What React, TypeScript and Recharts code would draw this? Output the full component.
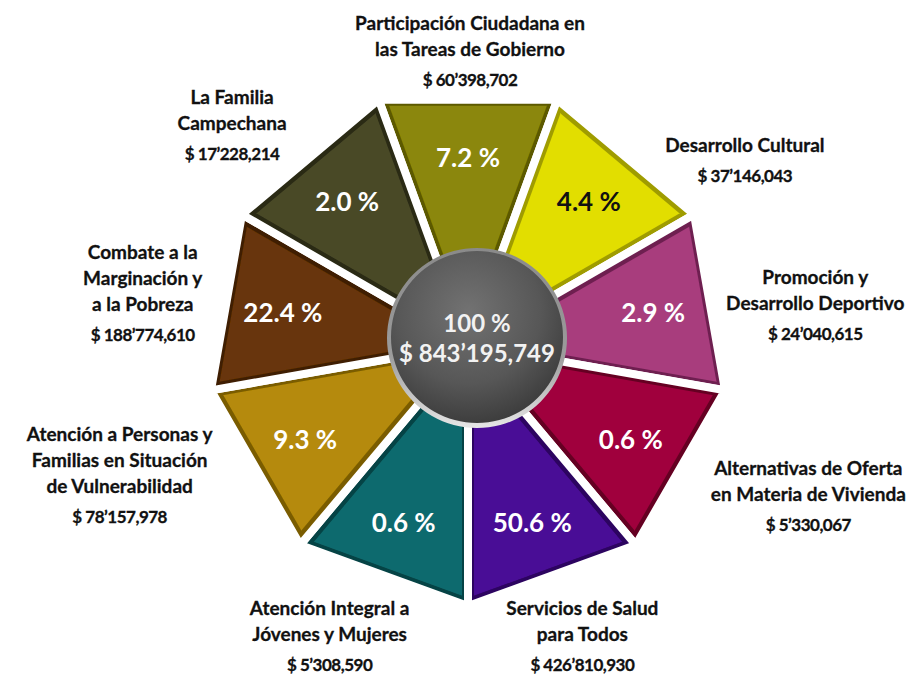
import {
  RadarChart,
  Radar,
  PolarAngleAxis,
  PolarRadiusAxis,
  PieChart,
  Pie,
} from "recharts";

// program names, split into the lines they are printed on
const NAMES: string[][] = [
  ["Participación Ciudadana en", "las Tareas de Gobierno"],
  ["Desarrollo Cultural"],
  ["Promoción y", "Desarrollo Deportivo"],
  ["Alternativas de Oferta", "en Materia de Vivienda"],
  ["Servicios de Salud", "para Todos"],
  ["Atención Integral a", "Jóvenes y Mujeres"],
  ["Atención a Personas y", "Familias en Situación", "de Vulnerabilidad"],
  ["Combate a la", "Marginación y", "a la Pobreza"],
  ["La Familia", "Campechana"],
];

const AMOUNTS = [
  "$ 60’398,702",
  "$ 37’146,043",
  "$ 24’040,615",
  "$ 5’330,067",
  "$ 426’810,930",
  "$ 5’308,590",
  "$ 78’157,978",
  "$ 188’774,610",
  "$ 17’228,214",
];

const PERCENTS = ["7.2 %", "4.4 %", "2.9 %", "0.6 %", "50.6 %", "0.6 %", "9.3 %", "22.4 %", "2.0 %"];

const TOTAL_PERCENT = "100 %";
const TOTAL_AMOUNT = "$ 843’195,749";

const COLORS = [
  "#8b8707",
  "#e2de00",
  "#a83c7d",
  "#a0063d",
  "#4a0b96",
  "#0d6b6e",
  "#b58a08",
  "#683507",
  "#4a4a28",
];
// darker tones for the bevelled rim of each wedge
const EDGE_COLORS = [
  "#5c5900",
  "#9f9c00",
  "#6e1f50",
  "#650022",
  "#2c0460",
  "#054345",
  "#7a5c00",
  "#3f1e02",
  "#2a2a14",
];
const PCT_COLORS = ["#fff", "#111", "#fff", "#fff", "#fff", "#fff", "#fff", "#fff", "#fff"];

// nudges from the polar anchor to the first line of each outer label
const NAME_NUDGE: [number, number][] = [
  [2, -12],
  [77, 38],
  [41, -14],
  [71, -33],
  [8, -30],
  [-32, -30],
  [-79, -67],
  [-19, -39],
  [-36, -10],
];

const W = 915;
const H = 667;
const CX = 460;
const CY = 337;
const OUTER_R = 261;
const FONT = "Lato, 'Open Sans', sans-serif";

// each row is a vertex of the nonagon; series k fills the wedge between vertex k and k+1
const vertexRows = NAMES.map((_, v) => {
  const row: Record<string, number> = { vertex: v };
  NAMES.forEach((_, k) => {
    row[`s${k}`] = v === k || v === (k + 1) % NAMES.length ? 1 : 0;
  });
  return row;
});

const segments = NAMES.map((lines, i) => ({
  name: lines.join(" "),
  weight: 1,
  amount: AMOUNTS[i],
  percent: PERCENTS[i],
}));

const RAD = Math.PI / 180;
const polar = (cx: number, cy: number, r: number, deg: number) => ({
  x: cx + r * Math.cos(-deg * RAD),
  y: cy + r * Math.sin(-deg * RAD),
});

function renderSegmentLabel(props: any) {
  const { cx, cy, midAngle, index } = props;
  const inner = polar(cx, cy, 188, midAngle);
  const anchor = polar(cx, cy, OUTER_R + 50, midAngle);
  const [ndx, ndy] = NAME_NUDGE[index];
  const x = anchor.x + ndx;
  const y0 = anchor.y + ndy;
  const lines = NAMES[index];
  return (
    <g key={`seg-label-${index}`}>
      <text
        x={inner.x}
        y={inner.y}
        textAnchor="middle"
        dominantBaseline="central"
        fill={PCT_COLORS[index]}
        fontFamily={FONT}
        fontWeight={700}
        fontSize={26}
      >
        {PERCENTS[index]}
      </text>
      {lines.map((line, i) => (
        <text
          key={i}
          x={x}
          y={y0 + i * 26}
          textAnchor="middle"
          dominantBaseline="central"
          fill="#111"
          stroke="#111"
          strokeWidth={0.3}
          fontFamily={FONT}
          fontWeight={700}
          fontSize={19}
        >
          {line}
        </text>
      ))}
      <text
        x={x}
        y={y0 + (lines.length - 1) * 26 + 31}
        textAnchor="middle"
        dominantBaseline="central"
        fill="#111"
        stroke="#111"
        strokeWidth={0.3}
        fontFamily={FONT}
        fontWeight={700}
        fontSize={17}
        letterSpacing={-0.5}
      >
        {AMOUNTS[index]}
      </text>
    </g>
  );
}

function renderTotalLabel(props: any) {
  const { cx, cy } = props;
  return (
    <g key="total-label">
      <text x={cx} y={cy - 15} textAnchor="middle" dominantBaseline="central" fill="#f2f2f2"
        fontFamily={FONT} fontWeight={700} fontSize={24}>
        {TOTAL_PERCENT}
      </text>
      <text x={cx} y={cy + 15} textAnchor="middle" dominantBaseline="central" fill="#f2f2f2"
        fontFamily={FONT} fontWeight={700} fontSize={24}>
        {TOTAL_AMOUNT}
      </text>
    </g>
  );
}

export default function App() {
  const total = [{ name: TOTAL_AMOUNT, share: 100 }];
  return (
    <div style={{ position: "relative", width: W, height: H }}>
      <div style={{ position: "absolute", left: 0, top: 0 }}>
        <RadarChart
          width={W}
          height={H}
          data={vertexRows}
          cx={CX}
          cy={CY}
          outerRadius={OUTER_R}
          startAngle={110}
          endAngle={-250}
          margin={{ top: 0, right: 0, bottom: 0, left: 0 }}
        >
          <defs>
            <filter id="inset" x="-5%" y="-5%" width="110%" height="110%">
              <feMorphology operator="erode" radius="6" />
            </filter>
          </defs>
          <PolarAngleAxis dataKey="vertex" tick={false} axisLine={false} tickLine={false} />
          <PolarRadiusAxis domain={[0, 1]} tick={false} axisLine={false} tickLine={false} />
          {NAMES.map((_, k) => (
            <Radar
              key={`rim-${k}`}
              dataKey={`s${k}`}
              fill={EDGE_COLORS[k]}
              fillOpacity={1}
              stroke="#ffffff"
              strokeWidth={8}
              dot={false}
              isAnimationActive={false}
            />
          ))}
          {NAMES.map((_, k) => (
            <Radar
              key={`face-${k}`}
              dataKey={`s${k}`}
              fill={COLORS[k]}
              fillOpacity={1}
              stroke="none"
              filter="url(#inset)"
              dot={false}
              isAnimationActive={false}
            />
          ))}
        </RadarChart>
      </div>
      <div style={{ position: "absolute", left: 0, top: 0 }}>
        <PieChart width={W} height={H} margin={{ top: 0, right: 0, bottom: 0, left: 0 }}>
          <defs>
            <radialGradient id="sphere" cx="45%" cy="35%" r="70%">
              <stop offset="0%" stopColor="#727272" />
              <stop offset="60%" stopColor="#575757" />
              <stop offset="85%" stopColor="#444444" />
              <stop offset="100%" stopColor="#383838" />
            </radialGradient>
            <linearGradient id="rim" x1="0" y1="0" x2="0" y2="1">
              <stop offset="0%" stopColor="#8a8a8a" />
              <stop offset="60%" stopColor="#9c9c9c" />
              <stop offset="100%" stopColor="#e6e6e6" />
            </linearGradient>
          </defs>
          <Pie
            data={segments}
            dataKey="weight"
            cx={CX}
            cy={CY}
            outerRadius={OUTER_R}
            startAngle={110}
            endAngle={-250}
            fill="transparent"
            stroke="none"
            labelLine={false}
            label={renderSegmentLabel}
            isAnimationActive={false}
          />
          <Pie
            data={total}
            dataKey="share"
            cx={CX + 9}
            cy={CY - 7}
            outerRadius={90}
            fill="url(#rim)"
            stroke="none"
            isAnimationActive={false}
          />
          <Pie
            data={total}
            dataKey="share"
            cx={CX + 9}
            cy={CY - 8}
            outerRadius={86}
            fill="url(#sphere)"
            stroke="none"
            labelLine={false}
            label={renderTotalLabel}
            isAnimationActive={false}
          />
        </PieChart>
      </div>
    </div>
  );
}
